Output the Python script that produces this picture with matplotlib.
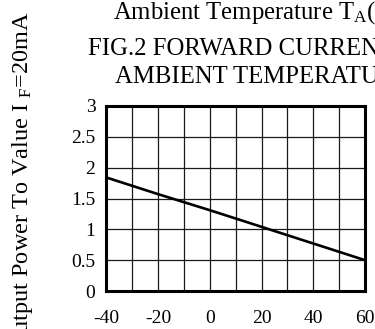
import matplotlib
matplotlib.use("Agg")
import matplotlib.pyplot as plt

plt.rcParams['font.family'] = ['Liberation Serif', 'DejaVu Serif']
plt.rcParams['mathtext.fontset'] = 'custom'
plt.rcParams['mathtext.rm'] = 'Liberation Serif'
plt.rcParams['mathtext.it'] = 'Liberation Serif:italic'

temps = [-40, -20, 0, 20, 40, 60]
rel_power = [1.84, 1.57, 1.31, 1.04, 0.77, 0.50]
xticks = [-40, -20, 0, 20, 40, 60]
yticks = [0, 0.5, 1, 1.5, 2, 2.5, 3]
ytick_labels = ['0', '0.5', '1', '1.5', '2', '2.5', '3']

W, H = 375, 329
fig = plt.figure(figsize=(W / 100, H / 100), dpi=100)
ax = fig.add_axes([106.5 / W, 1 - 291 / H, (365 - 106.5) / W, (291 - 106) / H])

ax.plot(temps, rel_power, color='black', lw=1.9, solid_capstyle='butt')
ax.set_xlim(-40, 60)
ax.set_ylim(0, 3)
grid_x = list(range(-40, 61, 10))
ax.set_xticks(grid_x)
ax.set_xticklabels([str(v) if v in xticks else '' for v in grid_x])
ax.set_yticks(yticks)
ax.set_yticklabels(ytick_labels)
ax.grid(True, color='#1a1a1a', lw=0.9)
ax.tick_params(length=0, labelsize=14)
ax.tick_params(axis='x', pad=14)
ax.tick_params(axis='y', pad=8)
for s in ax.spines.values():
    s.set_linewidth(2.2)
    s.set_zorder(5)

fs = 17.8
fig.text(113 / W, 1 - 18.5 / H, 'Ambient Temperature T$_\\mathrm{A}$(\u00b0C)', fontsize=fs,
         ha='left', va='baseline')
fig.text(88 / W, 1 - 55 / H, 'FIG.2 FORWARD CURRENT VS.', fontsize=fs,
         ha='left', va='baseline')
fig.text(115 / W, 1 - 83 / H, 'AMBIENT TEMPERATURE', fontsize=fs,
         ha='left', va='baseline')
fig.text(23 / W, 1 - 11 / H, 'Output Power To Value I $_\\mathrm{F}$=20mA', fontsize=17.5,
         rotation=90, ha='center', va='top')

fig.savefig('out.png', dpi=100)
